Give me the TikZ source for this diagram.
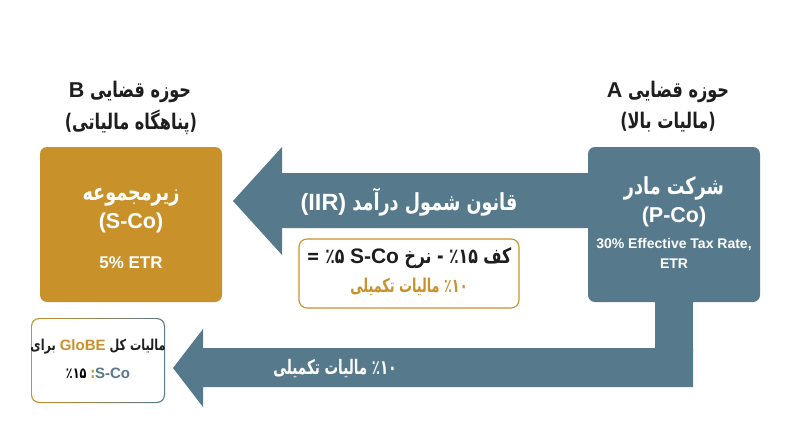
\documentclass[tikz,border=0pt]{standalone}
\usepackage{fontspec}
\usepackage{graphicx}
\setmainfont{Liberation Sans}
\newfontfamily\arabicfont[Script=Arabic, FakeStretch=0.75]{DejaVu Sans}
\newfontfamily\latinfont{Liberation Sans}
\TeXXeTstate=1
\usetikzlibrary{calc}
\definecolor{goldco}{HTML}{C9912A}
\definecolor{steelco}{HTML}{56798C}
\definecolor{inkco}{HTML}{1E1E1E}
\newcommand{\rtl}[1]{\beginR #1\endR}
\newcommand{\ltr}[1]{\beginL{\latinfont #1}\endL{}}
\newcommand{\narrow}[1]{\scalebox{0.9}[1]{#1}}
\tikzset{
    fatext/.style={font=\arabicfont\bfseries\fontsize{#1}{#1}\selectfont, inner sep=0pt},
    latext/.style={font=\bfseries\fontsize{#1}{#1}\selectfont, inner sep=0pt},
    headtext/.style={fatext=#1, text=inkco},
    boxhead/.style={fatext=23.5, text=white},
    boxcode/.style={latext=21.5, text=white},
    boxnote/.style={latext=#1, text=white},
    arrowtext/.style={fatext=#1, text=white},
    notetext/.style={fatext=#1, text=inkco},
    entity/.style={rounded corners=7pt, minimum width=182pt, minimum height=155pt, inner sep=0pt}
}

\begin{document}
\begin{tikzpicture}[x=1pt, y=-1pt]
    \useasboundingbox (0,0) rectangle (800,447);

    % jurisdiction titles
    \node[headtext=21.5] (ttlBa) at (130,92) {\rtl{حوزه قضایی \ltr{B}}};
    \node[headtext=21.5] (ttlBb) at (131,122) {\rtl{(پناهگاه مالیاتی)}};
    \node[headtext=21.5] (ttlAa) at (668,92) {\rtl{حوزه قضایی \ltr{A}}};
    \node[headtext=21.5] (ttlAb) at (668,122) {\rtl{(مالیات بالا)}};

    % arrows
    \coordinate (iirtip) at (233,201);
    \coordinate (toptip) at (173,368);
    \fill[steelco] (588,173) -- (282,173) -- (282,147) -- (iirtip) -- (282,255) -- (282,228) -- (588,228) -- cycle;
    \fill[steelco] (655,300) rectangle (693,387);
    \fill[steelco] (693,348) -- (203,348) -- (203,329) -- (toptip) -- (203,407) -- (203,387) -- (693,387) -- cycle;

    % entities
    \node[entity, fill=goldco] (sco) at (131,224.5) {};
    \node[entity, fill=steelco, minimum width=172pt] (pco) at (674,224.5) {};

    \node[boxhead] (sconame) at (131,197) {\rtl{زیرمجموعه}};
    \node[boxcode] (scocode) at (131,223) {(S-Co)};
    \node[boxnote=17] (scoetr) at (131,263) {5\% ETR};

    \node[boxhead] (pconame) at (674,188) {\rtl{شرکت مادر}};
    \node[boxcode] (pcocode) at (674,217) {(P-Co)};
    \node[boxnote=14] (pcoetr) at (674,245) {30\% Effective Tax Rate,};
    \node[boxnote=14] (pcoetrb) at (674,264) {ETR};

    \node[arrowtext=23.5] (iirlbl) at (409,202) {\rtl{قانون شمول درآمد \ltr{(IIR)}}};
    \node[arrowtext=20] (toplbl) at (335,369) {\narrow{\rtl{٪۱۰ مالیات تکمیلی}}};

    % calculation note
    \node[draw=goldco, line width=1.1pt, fill=white, rounded corners=8pt, minimum width=220pt, minimum height=69pt] (calc) at (409,273.5) {};
    \node[notetext=21] (calca) at (409,258) {\rtl{کف ٪۱۵ - نرخ \ltr{S-Co} ٪۵ =}};
    \node[notetext=19, text=goldco] (calcb) at (409,287) {\narrow{\rtl{٪۱۰ مالیات تکمیلی}}};

    % total GloBE tax
    \node[left color=goldco, right color=steelco, rounded corners=8pt, minimum width=134pt, minimum height=85pt] (globe) at (98,360.5) {};
    \node[fill=white, rounded corners=7pt, minimum width=131.6pt, minimum height=82.6pt] (globein) at (globe.center) {};
    \node[notetext=15] (globea) at (98,347) {\rtl{مالیات کل \ltr{\textcolor{goldco}{GloBE}} برای}};
    \node[notetext=15] (globeb) at (98,373) {\rtl{\ltr{\textcolor{steelco}{S-Co}}:\ \textcolor{goldco}{٪۱۵}}};
\end{tikzpicture}
\end{document}
